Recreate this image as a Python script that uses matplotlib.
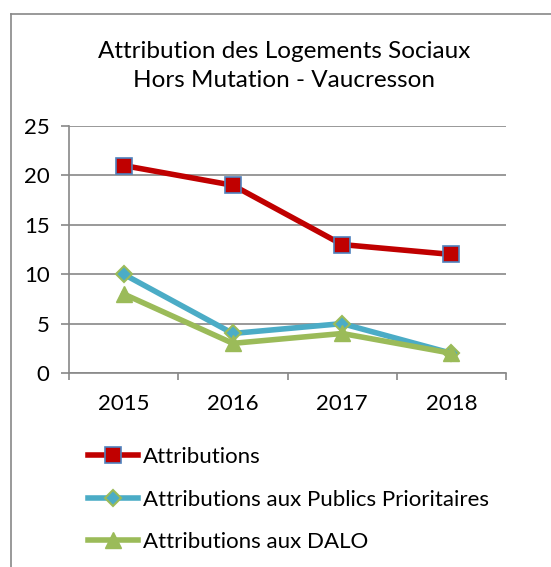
import matplotlib.pyplot as plt
from matplotlib.lines import Line2D

plt.rcParams['font.family'] = ['Lato', 'DejaVu Sans']

# Données
years = ['2015', '2016', '2017', '2018']
attributions = [21, 19, 13, 12]
publics_prioritaires = [10, 4, 5, 2]
dalo = [8, 3, 4, 2]
yticks = [0, 5, 10, 15, 20, 25]

fig = plt.figure(figsize=(5.51, 5.67), dpi=100)
ax = fig.add_axes([69/551, 1-373/567, (506-69)/551, (373-126)/567])

# cadre du graphique (seulement haut et gauche visibles)
fig.add_artist(Line2D([11/551, 11/551], [0, 1-14/567], color='#888888', lw=1.2))
fig.add_artist(Line2D([11/551, 1], [1-14/567, 1-14/567], color='#888888', lw=1.2))

x = range(len(years))
ax.plot(x, attributions, color='#C00000', lw=4, marker='s', markersize=11,
        markerfacecolor='#C00000', markeredgecolor='#4F81BD', markeredgewidth=1.2,
        label='Attributions', zorder=3)
ax.plot(x, publics_prioritaires, color='#4BACC6', lw=4, marker='D', markersize=8,
        markerfacecolor='#4BACC6', markeredgecolor='#9BBB59', markeredgewidth=1.5,
        label='Attributions aux Publics Prioritaires', zorder=3)
ax.plot(x, dalo, color='#9BBB59', lw=4, marker='^', markersize=11,
        markerfacecolor='#9BBB59', markeredgecolor='#9BBB59',
        label='Attributions aux DALO', zorder=4)

ax.set_xlim(-0.5, 3.5)
ax.set_ylim(0, 25)
ax.set_yticks(yticks)
ax.set_yticklabels([str(v) for v in yticks], fontsize=16)
ax.set_xticks([-0.5, 0.5, 1.5, 2.5, 3.5])
ax.set_xticklabels([])
ax.set_xticks(list(x), minor=True)
ax.set_xticklabels(years, minor=True, fontsize=16)
ax.tick_params(axis='x', which='minor', length=0, pad=15)
ax.tick_params(axis='x', which='major', length=5, color='#888888', width=1.2)
ax.tick_params(axis='y', length=6, color='#888888', width=1.2, pad=8)

ax.grid(axis='y', color='#888888', lw=1.2)
ax.set_axisbelow(True)
for s in ['top', 'right']:
    ax.spines[s].set_visible(False)
ax.spines['left'].set_color('#888888')
ax.spines['bottom'].set_color('#888888')
ax.spines['left'].set_linewidth(1.2)
ax.spines['bottom'].set_linewidth(1.2)

fig.text(284/551, 1-66/567, 'Attribution des Logements Sociaux\nHors Mutation - Vaucresson',
         ha='center', va='center', fontsize=17.5, linespacing=1.45)

ax.legend(loc='upper left', bbox_to_anchor=(79/551, 1-438/567), bbox_transform=fig.transFigure,
          frameon=False, fontsize=16, handlelength=2.25, handletextpad=0.22,
          labelspacing=1.02, borderaxespad=0)

fig.savefig('out.png', dpi=100)
